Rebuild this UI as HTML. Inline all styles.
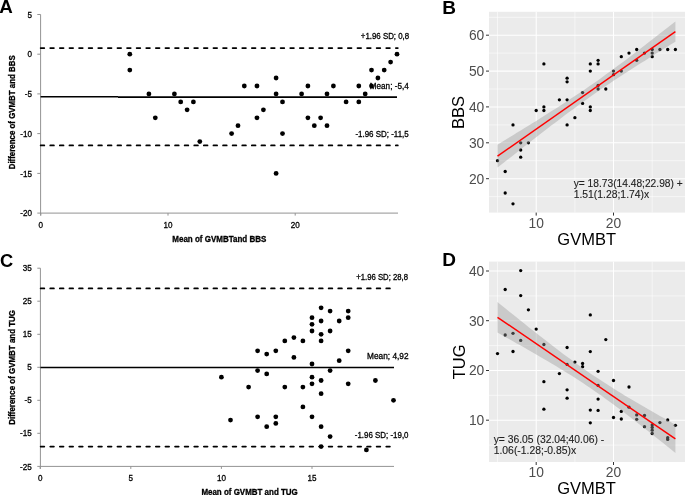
<!DOCTYPE html>
<html><head><meta charset="utf-8"><style>
html,body{margin:0;padding:0;background:#fff;}
svg{display:block;will-change:transform;}
text{font-family:"Liberation Sans",sans-serif;}
</style></head><body>
<svg width="685" height="495" viewBox="0 0 685 495">
<rect width="685" height="495" fill="#fff"/>
<g id="panelA">
<text x="-0.8" y="13.2" font-size="18.8" font-weight="bold" font-family="Liberation Sans, sans-serif">A</text>
<line x1="40.6" y1="14.5" x2="40.6" y2="215.6" stroke="#939393" stroke-width="1"/>
<line x1="40.1" y1="213.1" x2="398.0" y2="213.1" stroke="#939393" stroke-width="1"/>
<line x1="37.3" y1="14.5" x2="40.6" y2="14.5" stroke="#939393" stroke-width="1"/>
<text transform="translate(32,17.6) scale(0.9,1)" font-size="9" text-anchor="end" font-family="Liberation Sans, sans-serif" stroke="#000" stroke-width="0.3">5</text>
<line x1="37.3" y1="54.2" x2="40.6" y2="54.2" stroke="#939393" stroke-width="1"/>
<text transform="translate(32,57.3) scale(0.9,1)" font-size="9" text-anchor="end" font-family="Liberation Sans, sans-serif" stroke="#000" stroke-width="0.3">0</text>
<line x1="37.3" y1="93.9" x2="40.6" y2="93.9" stroke="#939393" stroke-width="1"/>
<text transform="translate(32,97.0) scale(0.9,1)" font-size="9" text-anchor="end" font-family="Liberation Sans, sans-serif" stroke="#000" stroke-width="0.3">-5</text>
<line x1="37.3" y1="133.6" x2="40.6" y2="133.6" stroke="#939393" stroke-width="1"/>
<text transform="translate(32,136.7) scale(0.9,1)" font-size="9" text-anchor="end" font-family="Liberation Sans, sans-serif" stroke="#000" stroke-width="0.3">-10</text>
<line x1="37.3" y1="173.4" x2="40.6" y2="173.4" stroke="#939393" stroke-width="1"/>
<text transform="translate(32,176.5) scale(0.9,1)" font-size="9" text-anchor="end" font-family="Liberation Sans, sans-serif" stroke="#000" stroke-width="0.3">-15</text>
<line x1="37.3" y1="213.1" x2="40.6" y2="213.1" stroke="#939393" stroke-width="1"/>
<text transform="translate(32,216.2) scale(0.9,1)" font-size="9" text-anchor="end" font-family="Liberation Sans, sans-serif" stroke="#000" stroke-width="0.3">-20</text>
<line x1="40.8" y1="213.1" x2="40.8" y2="215.6" stroke="#939393" stroke-width="1"/>
<text transform="translate(40.8,227.8) scale(0.9,1)" font-size="9" text-anchor="middle" font-family="Liberation Sans, sans-serif" stroke="#000" stroke-width="0.3">0</text>
<line x1="168.0" y1="213.1" x2="168.0" y2="215.6" stroke="#939393" stroke-width="1"/>
<text transform="translate(168.0,227.8) scale(0.9,1)" font-size="9" text-anchor="middle" font-family="Liberation Sans, sans-serif" stroke="#000" stroke-width="0.3">10</text>
<line x1="295.2" y1="213.1" x2="295.2" y2="215.6" stroke="#939393" stroke-width="1"/>
<text transform="translate(295.2,227.8) scale(0.9,1)" font-size="9" text-anchor="middle" font-family="Liberation Sans, sans-serif" stroke="#000" stroke-width="0.3">20</text>
<text x="172.3" y="241.8" font-size="8.7" font-weight="bold"  stroke="#000" stroke-width="0.3" textLength="94" lengthAdjust="spacingAndGlyphs" font-family="Liberation Sans, sans-serif">Mean of GVMBTand BBS</text>
<text transform="translate(15,169.3) rotate(-90)" font-size="8.7" font-weight="bold"  stroke="#000" stroke-width="0.3" textLength="114" lengthAdjust="spacingAndGlyphs" font-family="Liberation Sans, sans-serif">Difference of GVMBT and BBS</text>
<line x1="40.6" y1="48.1" x2="397.8" y2="48.1" stroke="#000" stroke-width="1.75" stroke-linecap="round" stroke-dasharray="3.65 5.95" stroke-dashoffset="-0.05"/>
<line x1="40.6" y1="145.4" x2="397.8" y2="145.4" stroke="#000" stroke-width="1.75" stroke-linecap="round" stroke-dasharray="3.65 5.95" stroke-dashoffset="-0.05"/>
<line x1="40.6" y1="96.8" x2="118" y2="96.8" stroke="#000" stroke-width="1.6"/>
<line x1="118" y1="97.2" x2="397.0" y2="97.2" stroke="#000" stroke-width="1.8"/>
<text x="360.8" y="39.2" font-size="8.6" font-family="Liberation Sans, sans-serif" stroke="#000" stroke-width="0.3" textLength="48.4" lengthAdjust="spacingAndGlyphs" font-family="Liberation Sans, sans-serif">+1.96 SD; 0,8</text>
<text x="369.8" y="88.9" font-size="8.6" font-family="Liberation Sans, sans-serif" stroke="#000" stroke-width="0.3" textLength="38.9" lengthAdjust="spacingAndGlyphs" font-family="Liberation Sans, sans-serif">Mean; -5,4</text>
<text x="355.4" y="137.3" font-size="8.6" font-family="Liberation Sans, sans-serif" stroke="#000" stroke-width="0.3" textLength="53.3" lengthAdjust="spacingAndGlyphs" font-family="Liberation Sans, sans-serif">-1.96 SD; -11,5</text>
<circle cx="129.8" cy="54.2" r="2.4"/>
<circle cx="129.8" cy="70.1" r="2.4"/>
<circle cx="148.9" cy="93.9" r="2.4"/>
<circle cx="155.3" cy="117.8" r="2.4"/>
<circle cx="174.4" cy="93.9" r="2.4"/>
<circle cx="180.7" cy="101.9" r="2.4"/>
<circle cx="187.1" cy="109.8" r="2.4"/>
<circle cx="193.4" cy="101.9" r="2.4"/>
<circle cx="199.8" cy="141.6" r="2.4"/>
<circle cx="231.6" cy="133.6" r="2.4"/>
<circle cx="238.0" cy="125.7" r="2.4"/>
<circle cx="244.3" cy="86.0" r="2.4"/>
<circle cx="257.0" cy="86.0" r="2.4"/>
<circle cx="257.0" cy="117.8" r="2.4"/>
<circle cx="263.4" cy="109.8" r="2.4"/>
<circle cx="276.1" cy="78.0" r="2.4"/>
<circle cx="276.1" cy="93.9" r="2.4"/>
<circle cx="276.1" cy="173.4" r="2.4"/>
<circle cx="282.5" cy="101.9" r="2.4"/>
<circle cx="282.5" cy="133.6" r="2.4"/>
<circle cx="301.6" cy="93.9" r="2.4"/>
<circle cx="307.9" cy="86.0" r="2.4"/>
<circle cx="307.9" cy="117.8" r="2.4"/>
<circle cx="314.3" cy="125.7" r="2.4"/>
<circle cx="320.6" cy="117.8" r="2.4"/>
<circle cx="327.0" cy="93.9" r="2.4"/>
<circle cx="327.0" cy="125.7" r="2.4"/>
<circle cx="333.4" cy="86.0" r="2.4"/>
<circle cx="346.1" cy="101.9" r="2.4"/>
<circle cx="358.8" cy="86.0" r="2.4"/>
<circle cx="358.8" cy="101.9" r="2.4"/>
<circle cx="365.2" cy="93.9" r="2.4"/>
<circle cx="371.5" cy="70.1" r="2.4"/>
<circle cx="371.5" cy="86.0" r="2.4"/>
<circle cx="377.9" cy="78.0" r="2.4"/>
<circle cx="384.2" cy="70.1" r="2.4"/>
<circle cx="390.6" cy="62.1" r="2.4"/>
<circle cx="397.0" cy="54.2" r="2.4"/>
</g>
<g id="panelC">
<text x="-0.1" y="266.6" font-size="18.3" font-weight="bold" font-family="Liberation Sans, sans-serif">C</text>
<line x1="40.4" y1="268.2" x2="40.4" y2="468.9" stroke="#939393" stroke-width="1"/>
<line x1="39.9" y1="466.4" x2="394.0" y2="466.4" stroke="#939393" stroke-width="1"/>
<line x1="37.3" y1="268.2" x2="40.4" y2="268.2" stroke="#939393" stroke-width="1"/>
<text transform="translate(31.8,271.3) scale(0.9,1)" font-size="9" text-anchor="end" font-family="Liberation Sans, sans-serif" stroke="#000" stroke-width="0.3">35</text>
<line x1="37.3" y1="301.2" x2="40.4" y2="301.2" stroke="#939393" stroke-width="1"/>
<text transform="translate(31.8,304.3) scale(0.9,1)" font-size="9" text-anchor="end" font-family="Liberation Sans, sans-serif" stroke="#000" stroke-width="0.3">25</text>
<line x1="37.3" y1="334.3" x2="40.4" y2="334.3" stroke="#939393" stroke-width="1"/>
<text transform="translate(31.8,337.4) scale(0.9,1)" font-size="9" text-anchor="end" font-family="Liberation Sans, sans-serif" stroke="#000" stroke-width="0.3">15</text>
<line x1="37.3" y1="367.3" x2="40.4" y2="367.3" stroke="#939393" stroke-width="1"/>
<text transform="translate(31.8,370.4) scale(0.9,1)" font-size="9" text-anchor="end" font-family="Liberation Sans, sans-serif" stroke="#000" stroke-width="0.3">5</text>
<line x1="37.3" y1="400.3" x2="40.4" y2="400.3" stroke="#939393" stroke-width="1"/>
<text transform="translate(31.8,403.4) scale(0.9,1)" font-size="9" text-anchor="end" font-family="Liberation Sans, sans-serif" stroke="#000" stroke-width="0.3">-5</text>
<line x1="37.3" y1="433.3" x2="40.4" y2="433.3" stroke="#939393" stroke-width="1"/>
<text transform="translate(31.8,436.4) scale(0.9,1)" font-size="9" text-anchor="end" font-family="Liberation Sans, sans-serif" stroke="#000" stroke-width="0.3">-15</text>
<line x1="37.3" y1="466.4" x2="40.4" y2="466.4" stroke="#939393" stroke-width="1"/>
<text transform="translate(31.8,469.5) scale(0.9,1)" font-size="9" text-anchor="end" font-family="Liberation Sans, sans-serif" stroke="#000" stroke-width="0.3">-25</text>
<line x1="40.2" y1="466.4" x2="40.2" y2="468.9" stroke="#939393" stroke-width="1"/>
<text transform="translate(40.2,481.2) scale(0.9,1)" font-size="9" text-anchor="middle" font-family="Liberation Sans, sans-serif" stroke="#000" stroke-width="0.3">0</text>
<line x1="130.8" y1="466.4" x2="130.8" y2="468.9" stroke="#939393" stroke-width="1"/>
<text transform="translate(130.8,481.2) scale(0.9,1)" font-size="9" text-anchor="middle" font-family="Liberation Sans, sans-serif" stroke="#000" stroke-width="0.3">5</text>
<line x1="221.4" y1="466.4" x2="221.4" y2="468.9" stroke="#939393" stroke-width="1"/>
<text transform="translate(221.4,481.2) scale(0.9,1)" font-size="9" text-anchor="middle" font-family="Liberation Sans, sans-serif" stroke="#000" stroke-width="0.3">10</text>
<line x1="312.0" y1="466.4" x2="312.0" y2="468.9" stroke="#939393" stroke-width="1"/>
<text transform="translate(312.0,481.2) scale(0.9,1)" font-size="9" text-anchor="middle" font-family="Liberation Sans, sans-serif" stroke="#000" stroke-width="0.3">15</text>
<text x="201.4" y="495.2" font-size="8.7" font-weight="bold"  stroke="#000" stroke-width="0.3" textLength="96.4" lengthAdjust="spacingAndGlyphs" font-family="Liberation Sans, sans-serif">Mean of GVMBT and TUG</text>
<text transform="translate(14.8,424.8) rotate(-90)" font-size="8.7" font-weight="bold"  stroke="#000" stroke-width="0.3" textLength="114.8" lengthAdjust="spacingAndGlyphs" font-family="Liberation Sans, sans-serif">Difference of GVMBT and TUG</text>
<line x1="40.4" y1="288.4" x2="394" y2="288.4" stroke="#000" stroke-width="1.75" stroke-linecap="round" stroke-dasharray="3.65 5.95" stroke-dashoffset="-0.25"/>
<line x1="40.4" y1="446.5" x2="394" y2="446.5" stroke="#000" stroke-width="1.75" stroke-linecap="round" stroke-dasharray="3.65 5.95" stroke-dashoffset="-0.25"/>
<line x1="40.4" y1="367.5" x2="394" y2="367.5" stroke="#000" stroke-width="1.7"/>
<text x="356.3" y="279.9" font-size="8.6" font-family="Liberation Sans, sans-serif" stroke="#000" stroke-width="0.3" textLength="51.7" lengthAdjust="spacingAndGlyphs" font-family="Liberation Sans, sans-serif">+1.96 SD; 28,8</text>
<text x="367.1" y="358.8" font-size="8.6" font-family="Liberation Sans, sans-serif" stroke="#000" stroke-width="0.3" textLength="41.4" lengthAdjust="spacingAndGlyphs" font-family="Liberation Sans, sans-serif">Mean; 4,92</text>
<text x="354.8" y="438" font-size="8.6" font-family="Liberation Sans, sans-serif" stroke="#000" stroke-width="0.3" textLength="53.7" lengthAdjust="spacingAndGlyphs" font-family="Liberation Sans, sans-serif">-1.96 SD; -19,0</text>
<circle cx="221.4" cy="377.2" r="2.4"/>
<circle cx="230.5" cy="420.1" r="2.4"/>
<circle cx="248.6" cy="387.1" r="2.4"/>
<circle cx="257.6" cy="350.8" r="2.4"/>
<circle cx="257.6" cy="370.6" r="2.4"/>
<circle cx="257.6" cy="416.8" r="2.4"/>
<circle cx="266.7" cy="354.1" r="2.4"/>
<circle cx="266.7" cy="373.9" r="2.4"/>
<circle cx="266.7" cy="426.7" r="2.4"/>
<circle cx="275.8" cy="350.8" r="2.4"/>
<circle cx="275.8" cy="416.8" r="2.4"/>
<circle cx="275.8" cy="423.4" r="2.4"/>
<circle cx="284.8" cy="340.9" r="2.4"/>
<circle cx="284.8" cy="387.1" r="2.4"/>
<circle cx="293.9" cy="337.6" r="2.4"/>
<circle cx="293.9" cy="357.4" r="2.4"/>
<circle cx="302.9" cy="340.9" r="2.4"/>
<circle cx="302.9" cy="387.1" r="2.4"/>
<circle cx="302.9" cy="406.9" r="2.4"/>
<circle cx="312.0" cy="317.7" r="2.4"/>
<circle cx="312.0" cy="324.3" r="2.4"/>
<circle cx="312.0" cy="331.0" r="2.4"/>
<circle cx="312.0" cy="364.0" r="2.4"/>
<circle cx="312.0" cy="377.2" r="2.4"/>
<circle cx="312.0" cy="383.8" r="2.4"/>
<circle cx="312.0" cy="416.8" r="2.4"/>
<circle cx="321.1" cy="307.8" r="2.4"/>
<circle cx="321.1" cy="321.0" r="2.4"/>
<circle cx="321.1" cy="334.3" r="2.4"/>
<circle cx="321.1" cy="340.9" r="2.4"/>
<circle cx="321.1" cy="380.5" r="2.4"/>
<circle cx="321.1" cy="393.7" r="2.4"/>
<circle cx="321.1" cy="426.7" r="2.4"/>
<circle cx="321.1" cy="446.6" r="2.4"/>
<circle cx="330.1" cy="311.1" r="2.4"/>
<circle cx="330.1" cy="331.0" r="2.4"/>
<circle cx="330.1" cy="370.6" r="2.4"/>
<circle cx="330.1" cy="436.6" r="2.4"/>
<circle cx="339.2" cy="321.0" r="2.4"/>
<circle cx="339.2" cy="360.7" r="2.4"/>
<circle cx="348.2" cy="311.1" r="2.4"/>
<circle cx="348.2" cy="317.7" r="2.4"/>
<circle cx="348.2" cy="350.8" r="2.4"/>
<circle cx="348.2" cy="383.8" r="2.4"/>
<circle cx="366.4" cy="449.9" r="2.4"/>
<circle cx="375.4" cy="380.5" r="2.4"/>
<circle cx="393.5" cy="400.3" r="2.4"/>
</g>
<g id="panelB">
<rect x="489" y="11.8" width="196" height="200.8" fill="#ebebeb"/>
<line x1="489" y1="196.6" x2="685" y2="196.6" stroke="#fff" stroke-width="0.55"/>
<line x1="489" y1="160.7" x2="685" y2="160.7" stroke="#fff" stroke-width="0.55"/>
<line x1="489" y1="124.9" x2="685" y2="124.9" stroke="#fff" stroke-width="0.55"/>
<line x1="489" y1="89.0" x2="685" y2="89.0" stroke="#fff" stroke-width="0.55"/>
<line x1="489" y1="53.1" x2="685" y2="53.1" stroke="#fff" stroke-width="0.55"/>
<line x1="489" y1="17.3" x2="685" y2="17.3" stroke="#fff" stroke-width="0.55"/>
<line x1="497.5" y1="11.8" x2="497.5" y2="212.6" stroke="#fff" stroke-width="0.55"/>
<line x1="574.9" y1="11.8" x2="574.9" y2="212.6" stroke="#fff" stroke-width="0.55"/>
<line x1="652.2" y1="11.8" x2="652.2" y2="212.6" stroke="#fff" stroke-width="0.55"/>
<line x1="489" y1="178.7" x2="685" y2="178.7" stroke="#fff" stroke-width="1.05"/>
<line x1="489" y1="142.8" x2="685" y2="142.8" stroke="#fff" stroke-width="1.05"/>
<line x1="489" y1="106.9" x2="685" y2="106.9" stroke="#fff" stroke-width="1.05"/>
<line x1="489" y1="71.1" x2="685" y2="71.1" stroke="#fff" stroke-width="1.05"/>
<line x1="489" y1="35.2" x2="685" y2="35.2" stroke="#fff" stroke-width="1.05"/>
<line x1="536.2" y1="11.8" x2="536.2" y2="212.6" stroke="#fff" stroke-width="1.05"/>
<line x1="613.5" y1="11.8" x2="613.5" y2="212.6" stroke="#fff" stroke-width="1.05"/>
<line x1="486" y1="178.7" x2="489" y2="178.7" stroke="#333" stroke-width="1"/>
<text x="484.3" y="183.5" font-size="13.8" fill="#4d4d4d" text-anchor="end" font-family="Liberation Sans, sans-serif">20</text>
<line x1="486" y1="142.8" x2="489" y2="142.8" stroke="#333" stroke-width="1"/>
<text x="484.3" y="147.6" font-size="13.8" fill="#4d4d4d" text-anchor="end" font-family="Liberation Sans, sans-serif">30</text>
<line x1="486" y1="106.9" x2="489" y2="106.9" stroke="#333" stroke-width="1"/>
<text x="484.3" y="111.7" font-size="13.8" fill="#4d4d4d" text-anchor="end" font-family="Liberation Sans, sans-serif">40</text>
<line x1="486" y1="71.1" x2="489" y2="71.1" stroke="#333" stroke-width="1"/>
<text x="484.3" y="75.9" font-size="13.8" fill="#4d4d4d" text-anchor="end" font-family="Liberation Sans, sans-serif">50</text>
<line x1="486" y1="35.2" x2="489" y2="35.2" stroke="#333" stroke-width="1"/>
<text x="484.3" y="40.0" font-size="13.8" fill="#4d4d4d" text-anchor="end" font-family="Liberation Sans, sans-serif">60</text>
<line x1="536.2" y1="212.6" x2="536.2" y2="215.6" stroke="#333" stroke-width="1"/>
<text x="536.2" y="227.8" font-size="13.8" fill="#4d4d4d" text-anchor="middle" font-family="Liberation Sans, sans-serif">10</text>
<line x1="613.5" y1="212.6" x2="613.5" y2="215.6" stroke="#333" stroke-width="1"/>
<text x="613.5" y="227.8" font-size="13.8" fill="#4d4d4d" text-anchor="middle" font-family="Liberation Sans, sans-serif">20</text>
<circle cx="497.5" cy="160.7" r="1.65"/>
<circle cx="505.2" cy="171.5" r="1.65"/>
<circle cx="505.2" cy="193.0" r="1.65"/>
<circle cx="513.0" cy="203.8" r="1.65"/>
<circle cx="513.0" cy="124.9" r="1.65"/>
<circle cx="520.7" cy="142.8" r="1.65"/>
<circle cx="520.7" cy="150.0" r="1.65"/>
<circle cx="520.7" cy="157.2" r="1.65"/>
<circle cx="528.4" cy="142.8" r="1.65"/>
<circle cx="536.2" cy="110.5" r="1.65"/>
<circle cx="543.9" cy="106.9" r="1.65"/>
<circle cx="543.9" cy="110.5" r="1.65"/>
<circle cx="543.9" cy="63.9" r="1.65"/>
<circle cx="559.4" cy="99.8" r="1.65"/>
<circle cx="567.1" cy="78.2" r="1.65"/>
<circle cx="567.1" cy="81.8" r="1.65"/>
<circle cx="567.1" cy="99.8" r="1.65"/>
<circle cx="567.1" cy="124.9" r="1.65"/>
<circle cx="574.9" cy="117.7" r="1.65"/>
<circle cx="582.6" cy="92.6" r="1.65"/>
<circle cx="582.6" cy="103.4" r="1.65"/>
<circle cx="590.3" cy="63.9" r="1.65"/>
<circle cx="590.3" cy="71.1" r="1.65"/>
<circle cx="590.3" cy="106.9" r="1.65"/>
<circle cx="590.3" cy="110.5" r="1.65"/>
<circle cx="598.1" cy="60.3" r="1.65"/>
<circle cx="598.1" cy="63.9" r="1.65"/>
<circle cx="598.1" cy="85.4" r="1.65"/>
<circle cx="598.1" cy="89.0" r="1.65"/>
<circle cx="605.8" cy="89.0" r="1.65"/>
<circle cx="613.5" cy="71.1" r="1.65"/>
<circle cx="613.5" cy="74.7" r="1.65"/>
<circle cx="621.3" cy="56.7" r="1.65"/>
<circle cx="621.3" cy="71.1" r="1.65"/>
<circle cx="629.0" cy="53.1" r="1.65"/>
<circle cx="636.7" cy="49.5" r="1.65"/>
<circle cx="636.7" cy="60.3" r="1.65"/>
<circle cx="644.5" cy="53.1" r="1.65"/>
<circle cx="652.2" cy="49.5" r="1.65"/>
<circle cx="652.2" cy="53.1" r="1.65"/>
<circle cx="652.2" cy="56.7" r="1.65"/>
<circle cx="659.9" cy="49.5" r="1.65"/>
<circle cx="667.7" cy="49.5" r="1.65"/>
<circle cx="675.4" cy="49.5" r="1.65"/>
<path d="M497.5,144.7 L501.4,142.3 L505.2,140.0 L509.1,137.6 L513.0,135.2 L516.8,132.8 L520.7,130.5 L524.6,128.1 L528.4,125.7 L532.3,123.3 L536.2,120.9 L540.0,118.5 L543.9,116.0 L547.8,113.6 L551.6,111.1 L555.5,108.7 L559.4,106.2 L563.2,103.7 L567.1,101.2 L571.0,98.6 L574.9,96.1 L578.7,93.5 L582.6,90.9 L586.5,88.3 L590.3,85.6 L594.2,82.9 L598.1,80.2 L601.9,77.4 L605.8,74.6 L609.7,71.8 L613.5,69.0 L617.4,66.1 L621.3,63.3 L625.1,60.4 L629.0,57.4 L632.9,54.5 L636.7,51.6 L640.6,48.6 L644.5,45.6 L648.3,42.6 L652.2,39.6 L656.1,36.6 L659.9,33.6 L663.8,30.6 L667.7,27.5 L671.5,24.5 L675.4,21.5 L675.4,41.7 L671.5,44.1 L667.7,46.4 L663.8,48.8 L659.9,51.2 L656.1,53.6 L652.2,56.0 L648.3,58.5 L644.5,60.9 L640.6,63.3 L636.7,65.8 L632.9,68.2 L629.0,70.7 L625.1,73.2 L621.3,75.7 L617.4,78.3 L613.5,80.8 L609.7,83.4 L605.8,86.0 L601.9,88.6 L598.1,91.3 L594.2,94.0 L590.3,96.7 L586.5,99.5 L582.6,102.3 L578.7,105.1 L574.9,107.9 L571.0,110.8 L567.1,113.6 L563.2,116.5 L559.4,119.4 L555.5,122.4 L551.6,125.3 L547.8,128.3 L543.9,131.3 L540.0,134.3 L536.2,137.3 L532.3,140.3 L528.4,143.3 L524.6,146.3 L520.7,149.3 L516.8,152.4 L513.0,155.4 L509.1,158.5 L505.2,161.5 L501.4,164.6 L497.5,167.6 Z" fill="#999" fill-opacity="0.4"/>
<line x1="497.5" y1="156.2" x2="675.4" y2="31.6" stroke="#f00" stroke-width="1.45"/>
<text x="573.7" y="186.8" font-size="10.3" fill="#222" stroke="#222" stroke-width="0.12" textLength="109" lengthAdjust="spacingAndGlyphs" font-family="Liberation Sans, sans-serif">y= 18.73(14.48;22.98) +</text>
<text x="573.7" y="197.7" font-size="10.3" fill="#222" stroke="#222" stroke-width="0.12" textLength="75.5" lengthAdjust="spacingAndGlyphs" font-family="Liberation Sans, sans-serif">1.51(1.28;1.74)x</text>
<text x="442.2" y="13.6" font-size="19" font-weight="bold" font-family="Liberation Sans, sans-serif">B</text>
<text x="586.7" y="244.8" font-size="16.5" text-anchor="middle" font-family="Liberation Sans, sans-serif">GVMBT</text>
<text transform="translate(464.3,112.5) rotate(-90)" font-size="16.5" text-anchor="middle" font-family="Liberation Sans, sans-serif">BBS</text>
</g>
<g id="panelD">
<rect x="489" y="261.6" width="196" height="200.4" fill="#ebebeb"/>
<line x1="489" y1="445.1" x2="685" y2="445.1" stroke="#fff" stroke-width="0.55"/>
<line x1="489" y1="395.3" x2="685" y2="395.3" stroke="#fff" stroke-width="0.55"/>
<line x1="489" y1="345.6" x2="685" y2="345.6" stroke="#fff" stroke-width="0.55"/>
<line x1="489" y1="295.9" x2="685" y2="295.9" stroke="#fff" stroke-width="0.55"/>
<line x1="497.5" y1="261.6" x2="497.5" y2="462.0" stroke="#fff" stroke-width="0.55"/>
<line x1="574.9" y1="261.6" x2="574.9" y2="462.0" stroke="#fff" stroke-width="0.55"/>
<line x1="652.2" y1="261.6" x2="652.2" y2="462.0" stroke="#fff" stroke-width="0.55"/>
<line x1="489" y1="420.2" x2="685" y2="420.2" stroke="#fff" stroke-width="1.05"/>
<line x1="489" y1="370.5" x2="685" y2="370.5" stroke="#fff" stroke-width="1.05"/>
<line x1="489" y1="320.7" x2="685" y2="320.7" stroke="#fff" stroke-width="1.05"/>
<line x1="489" y1="271.0" x2="685" y2="271.0" stroke="#fff" stroke-width="1.05"/>
<line x1="536.2" y1="261.6" x2="536.2" y2="462.0" stroke="#fff" stroke-width="1.05"/>
<line x1="613.5" y1="261.6" x2="613.5" y2="462.0" stroke="#fff" stroke-width="1.05"/>
<line x1="486" y1="420.2" x2="489" y2="420.2" stroke="#333" stroke-width="1"/>
<text x="484.3" y="425.0" font-size="13.8" fill="#4d4d4d" text-anchor="end" font-family="Liberation Sans, sans-serif">10</text>
<line x1="486" y1="370.5" x2="489" y2="370.5" stroke="#333" stroke-width="1"/>
<text x="484.3" y="375.3" font-size="13.8" fill="#4d4d4d" text-anchor="end" font-family="Liberation Sans, sans-serif">20</text>
<line x1="486" y1="320.7" x2="489" y2="320.7" stroke="#333" stroke-width="1"/>
<text x="484.3" y="325.5" font-size="13.8" fill="#4d4d4d" text-anchor="end" font-family="Liberation Sans, sans-serif">30</text>
<line x1="486" y1="271.0" x2="489" y2="271.0" stroke="#333" stroke-width="1"/>
<text x="484.3" y="275.8" font-size="13.8" fill="#4d4d4d" text-anchor="end" font-family="Liberation Sans, sans-serif">40</text>
<line x1="536.2" y1="462.0" x2="536.2" y2="465.0" stroke="#333" stroke-width="1"/>
<text x="536.2" y="477.2" font-size="13.8" fill="#4d4d4d" text-anchor="middle" font-family="Liberation Sans, sans-serif">10</text>
<line x1="613.5" y1="462.0" x2="613.5" y2="465.0" stroke="#333" stroke-width="1"/>
<text x="613.5" y="477.2" font-size="13.8" fill="#4d4d4d" text-anchor="middle" font-family="Liberation Sans, sans-serif">20</text>
<circle cx="497.5" cy="353.6" r="1.65"/>
<circle cx="505.2" cy="289.5" r="1.65"/>
<circle cx="505.2" cy="335.0" r="1.65"/>
<circle cx="513.0" cy="333.3" r="1.65"/>
<circle cx="513.0" cy="351.5" r="1.65"/>
<circle cx="520.7" cy="270.6" r="1.65"/>
<circle cx="520.7" cy="295.6" r="1.65"/>
<circle cx="520.7" cy="340.4" r="1.65"/>
<circle cx="528.4" cy="309.8" r="1.65"/>
<circle cx="536.2" cy="329.1" r="1.65"/>
<circle cx="543.9" cy="344.5" r="1.65"/>
<circle cx="543.9" cy="381.7" r="1.65"/>
<circle cx="543.9" cy="409.2" r="1.65"/>
<circle cx="559.4" cy="373.6" r="1.65"/>
<circle cx="567.1" cy="347.5" r="1.65"/>
<circle cx="567.1" cy="364.4" r="1.65"/>
<circle cx="567.1" cy="389.8" r="1.65"/>
<circle cx="567.1" cy="398.2" r="1.65"/>
<circle cx="574.9" cy="362.1" r="1.65"/>
<circle cx="582.6" cy="363.5" r="1.65"/>
<circle cx="582.6" cy="366.7" r="1.65"/>
<circle cx="590.3" cy="314.9" r="1.65"/>
<circle cx="590.3" cy="351.6" r="1.65"/>
<circle cx="590.3" cy="410.1" r="1.65"/>
<circle cx="590.3" cy="422.8" r="1.65"/>
<circle cx="598.1" cy="371.3" r="1.65"/>
<circle cx="598.1" cy="385.4" r="1.65"/>
<circle cx="598.1" cy="399.1" r="1.65"/>
<circle cx="598.1" cy="410.4" r="1.65"/>
<circle cx="605.8" cy="339.6" r="1.65"/>
<circle cx="613.5" cy="380.5" r="1.65"/>
<circle cx="613.5" cy="417.5" r="1.65"/>
<circle cx="621.3" cy="411.4" r="1.65"/>
<circle cx="621.3" cy="419.0" r="1.65"/>
<circle cx="629.0" cy="387.0" r="1.65"/>
<circle cx="629.0" cy="407.2" r="1.65"/>
<circle cx="636.7" cy="414.9" r="1.65"/>
<circle cx="636.7" cy="419.3" r="1.65"/>
<circle cx="644.5" cy="415.4" r="1.65"/>
<circle cx="644.5" cy="426.7" r="1.65"/>
<circle cx="652.2" cy="425.0" r="1.65"/>
<circle cx="652.2" cy="427.4" r="1.65"/>
<circle cx="652.2" cy="430.2" r="1.65"/>
<circle cx="652.2" cy="433.5" r="1.65"/>
<circle cx="659.9" cy="422.6" r="1.65"/>
<circle cx="667.7" cy="419.9" r="1.65"/>
<circle cx="667.7" cy="437.7" r="1.65"/>
<circle cx="667.7" cy="439.4" r="1.65"/>
<circle cx="675.4" cy="425.3" r="1.65"/>
<path d="M497.5,302.1 L501.4,305.2 L505.2,308.3 L509.1,311.4 L513.0,314.5 L516.8,317.6 L520.7,320.7 L524.6,323.8 L528.4,326.9 L532.3,329.9 L536.2,333.0 L540.0,336.0 L543.9,339.0 L547.8,342.1 L551.6,345.0 L555.5,348.0 L559.4,351.0 L563.2,353.9 L567.1,356.8 L571.0,359.6 L574.9,362.4 L578.7,365.2 L582.6,368.0 L586.5,370.7 L590.3,373.4 L594.2,376.0 L598.1,378.6 L601.9,381.1 L605.8,383.6 L609.7,386.1 L613.5,388.5 L617.4,390.9 L621.3,393.3 L625.1,395.7 L629.0,398.0 L632.9,400.3 L636.7,402.6 L640.6,404.8 L644.5,407.1 L648.3,409.3 L652.2,411.5 L656.1,413.7 L659.9,415.9 L663.8,418.1 L667.7,420.3 L671.5,422.5 L675.4,424.7 L675.4,452.9 L671.5,449.8 L667.7,446.7 L663.8,443.6 L659.9,440.5 L656.1,437.4 L652.2,434.4 L648.3,431.3 L644.5,428.3 L640.6,425.2 L636.7,422.2 L632.9,419.2 L629.0,416.2 L625.1,413.3 L621.3,410.3 L617.4,407.4 L613.5,404.5 L609.7,401.7 L605.8,398.9 L601.9,396.1 L598.1,393.4 L594.2,390.7 L590.3,388.0 L586.5,385.4 L582.6,382.8 L578.7,380.3 L574.9,377.8 L571.0,375.3 L567.1,372.9 L563.2,370.5 L559.4,368.2 L555.5,365.8 L551.6,363.5 L547.8,361.2 L543.9,358.9 L540.0,356.7 L536.2,354.4 L532.3,352.2 L528.4,350.0 L524.6,347.8 L520.7,345.6 L516.8,343.4 L513.0,341.2 L509.1,339.0 L505.2,336.9 L501.4,334.7 L497.5,332.5 Z" fill="#999" fill-opacity="0.4"/>
<line x1="497.5" y1="317.3" x2="675.4" y2="438.8" stroke="#f00" stroke-width="1.45"/>
<text x="493.7" y="442.6" font-size="10.3" fill="#222" stroke="#222" stroke-width="0.12" textLength="110.5" lengthAdjust="spacingAndGlyphs" font-family="Liberation Sans, sans-serif">y= 36.05 (32.04;40.06) -</text>
<text x="493.7" y="453.9" font-size="10.3" fill="#222" stroke="#222" stroke-width="0.12" textLength="82.5" lengthAdjust="spacingAndGlyphs" font-family="Liberation Sans, sans-serif">1.06(-1.28;-0.85)x</text>
<text x="442.2" y="265.9" font-size="19" font-weight="bold" font-family="Liberation Sans, sans-serif">D</text>
<text x="586.6" y="493.8" font-size="16.5" text-anchor="middle" font-family="Liberation Sans, sans-serif">GVMBT</text>
<text transform="translate(464.5,361.9) rotate(-90)" font-size="16.5" text-anchor="middle" font-family="Liberation Sans, sans-serif">TUG</text>
</g>
</svg>
</body></html>
